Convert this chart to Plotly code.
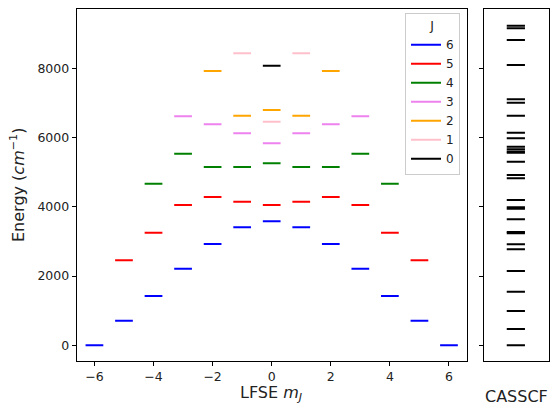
import plotly.graph_objects as go

# ---- data ----
J_values = [6, 5, 4, 3, 2, 1, 0]
J_colors = ["blue", "red", "green", "violet", "orange", "pink", "black"]
E_J6 = [0, 710, 1424, 2212, 2925, 3407, 3580, 3407, 2925, 2212, 1424, 710, 0]
E_J5 = [2454, 3252, 4051, 4282, 4147, 4051, 4147, 4282, 4051, 3252, 2454]
E_J4 = [4667, 5533, 5149, 5149, 5255, 5149, 5149, 5533, 4667]
E_J3 = [6613, 6382, 6122, 5833, 6122, 6382, 6613]
E_J2 = [7921, 6631, 6795, 6631, 7921]
E_J1 = [8432, 6457, 8432]
E_J0 = [8074]
E_by_J = [E_J6, E_J5, E_J4, E_J3, E_J2, E_J1, E_J0]

E_casscf = [0, 471, 990, 1548, 2146, 2772, 2917, 3234, 3272, 3638, 3940, 3985,
            4196, 4822, 4918, 5302, 5560, 5600, 5665, 5735, 5977, 6139, 6630,
            7006, 7104, 8094, 8816, 9154, 9229]

x_ticks = [-6, -4, -2, 0, 2, 4, 6]
y_ticks = [0, 2000, 4000, 6000, 8000]

HALF = 0.3  # half width of each level segment (style)
W, H = 553, 408

fig = go.Figure()

for J, col, E in zip(J_values, J_colors, E_by_J):
    xs, ys = [], []
    for i, e in enumerate(E):
        m = -J + i
        xs += [m - HALF, m + HALF, None]
        ys += [e, e, None]
    fig.add_trace(go.Scatter(x=xs, y=ys, mode="lines", name=str(J),
                             line=dict(color=col, width=2),
                             xaxis="x", yaxis="y", hoverinfo="skip"))

cx, cy = [], []
for e in E_casscf:
    cx += [0.35, 0.63, None]
    cy += [e, e, None]
fig.add_trace(go.Scatter(x=cx, y=cy, mode="lines", showlegend=False,
                         line=dict(color="black", width=2),
                         xaxis="x2", yaxis="y2", hoverinfo="skip"))

font = dict(family="DejaVu Sans", size=12.5, color="#222")
yr = [-445, 9703]
axis_common = dict(showline=True, mirror=True, linecolor="black", linewidth=1,
                   showgrid=False, zeroline=False, ticks="outside", ticklen=4,
                   tickcolor="black", tickfont=font)

fig.update_layout(
    width=W, height=H,
    margin=dict(l=0, r=0, t=0, b=0),
    paper_bgcolor="white", plot_bgcolor="white",
    xaxis=dict(domain=[76.7 / W, 466.7 / W], range=[-6.6, 6.6],
               tickvals=x_ticks, **axis_common),
    yaxis=dict(domain=[1 - 360.7 / H, 1 - 9.3 / H], range=yr,
               tickvals=y_ticks, **axis_common),
    xaxis2=dict(domain=[484 / W, 549 / W], range=[0, 1], anchor="y2",
                showline=True, mirror=True, linecolor="black", linewidth=1,
                showgrid=False, zeroline=False, showticklabels=False, ticks=""),
    yaxis2=dict(domain=[1 - 360.7 / H, 1 - 9.3 / H], range=yr, anchor="x2",
                tickvals=y_ticks, showticklabels=False,
                **{k: v for k, v in axis_common.items() if k != "tickfont"}),
    legend=dict(x=460 / W, y=1 - 13 / H, xanchor="right", yanchor="top",
                bgcolor="rgba(255,255,255,0.85)", bordercolor="#cccccc",
                borderwidth=1, font=dict(family="DejaVu Sans", size=12, color="#222"),
                title=dict(text="J", side="top center",
                           font=dict(family="DejaVu Sans", size=12.5, color="#222")),
                itemwidth=30),
    showlegend=True,
)

title_font = dict(family="DejaVu Sans", size=16, color="#222")
fig.add_annotation(text="Energy (<i>cm</i><sup>−1</sup>)", xref="paper", yref="paper",
                   x=18 / W, y=1 - 185 / H, textangle=-90, showarrow=False,
                   font=title_font, xanchor="center", yanchor="middle")
fig.add_annotation(text="LFSE <i>m<sub>J</sub></i>", xref="paper", yref="paper",
                   x=271 / W, y=1 - 393 / H, showarrow=False, font=title_font,
                   xanchor="center", yanchor="middle")
fig.add_annotation(text="CASSCF", xref="paper", yref="paper",
                   x=516 / W, y=1 - 396 / H, showarrow=False, font=title_font,
                   xanchor="center", yanchor="middle")

fig.write_html("out.html")
